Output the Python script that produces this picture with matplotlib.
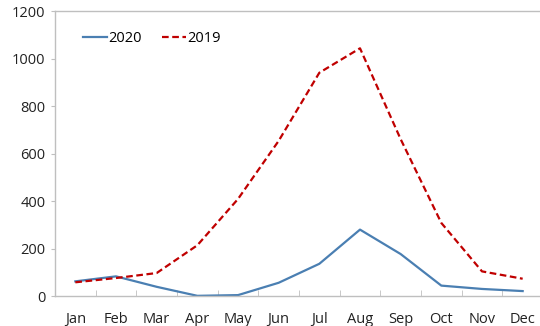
import matplotlib
matplotlib.use("Agg")
import matplotlib.pyplot as plt
import numpy as np

months = ["Jan", "Feb", "Mar", "Apr", "May", "Jun", "Jul", "Aug", "Sep", "Oct", "Nov", "Dec"]
values_2020 = [63, 84, 40, 2, 5, 57, 137, 281, 178, 45, 31, 22]
values_2019 = [59, 77, 98, 215, 410, 655, 942, 1045, 662, 309, 105, 74]
y_ticks = [0, 200, 400, 600, 800, 1000, 1200]

plt.rcParams['font.family'] = ['Open Sans', 'DejaVu Sans']

fig = plt.figure(figsize=(5.4, 3.26), dpi=100)
ax = fig.add_axes([55 / 540, 29.7 / 326, 488 / 540, 284.8 / 326])

x = np.arange(len(months))
ax.plot(x, values_2020, color="#4a7fb2", lw=1.6, label="2020")
ax.plot(x, values_2019, color="#c00000", lw=1.6, ls=(0, (3, 1.6)), label="2019")

ax.set_xlim(-0.5, len(months) - 0.5)
ax.set_ylim(0, 1200)
ax.set_yticks(y_ticks)
ax.set_xticks(x)
ax.set_xticklabels(months)
ax.set_xticks(np.arange(-0.5, len(months)), minor=True)

gray = "#bfbfbf"
for side in ["left", "bottom", "top"]:
    ax.spines[side].set_color(gray)
    ax.spines[side].set_linewidth(1.0)
ax.spines["right"].set_visible(False)

ax.tick_params(axis="x", which="major", length=0, pad=11, labelsize=10.5, colors="#222222")
ax.tick_params(axis="x", which="minor", direction="in", length=4, color=gray)
ax.tick_params(axis="y", length=3, color=gray, pad=4, labelsize=10.5, labelcolor="#222222")

ax.legend(loc="upper left", ncol=2, frameon=False, fontsize=10.5, handlelength=1.65,
          handletextpad=0.1, columnspacing=1.35, borderaxespad=0,
          bbox_to_anchor=(0.045, 0.952))

fig.savefig("out.png", dpi=100)
